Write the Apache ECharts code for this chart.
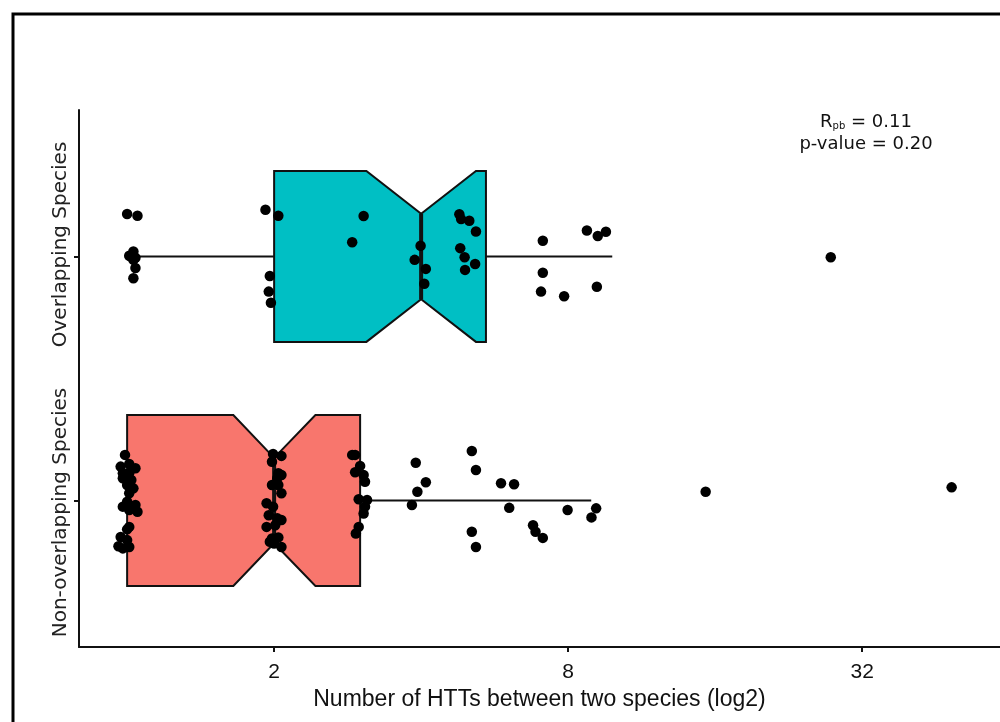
<!DOCTYPE html>
<html>
<head>
<meta charset="utf-8">
<script src="https://cdn.jsdelivr.net/npm/echarts@6/dist/echarts.min.js"></script>
<style>
  html, body { margin: 0; padding: 0; background: #fff; }
  #chart { width: 1000px; height: 722px; }
</style>
</head>
<body>
<div id="chart"></div>
<script>
// groups on the y axis (1 = bottom, 2 = top)
const groups = ['Non-overlapping Species', 'Overlapping Species'];
const xTicks = [2, 8, 32];

// box stats per group: whisker low, Q1, notch low, median, notch high, Q3, whisker high
const nonOverlapBox = [1.00, 1.00, 1.65, 2.00, 2.43, 3.00, 8.92];
const overlapBox = [1.00, 2.00, 3.09, 4.00, 5.18, 5.43, 9.85];

// jittered points: value (HTT count) and vertical jitter offset
const overlapValues = [1.00, 1.05, 1.03, 1.01, 1.02, 1.04, 1.03, 1.04, 1.03,
  1.92, 2.04, 1.96, 1.95, 1.97, 3.05, 2.89, 3.99, 3.88, 4.09, 4.06,
  4.79, 4.83, 5.02, 5.18, 4.81, 4.91, 5.16, 4.92,
  7.10, 8.74, 9.20, 9.56, 7.10, 7.04, 7.85, 9.16, 27.6];
const overlapJitter = [0.174, 0.167, 0.020, 0.003, -0.001, -0.005, -0.014, -0.047, -0.089,
  0.191, 0.167, -0.080, -0.144, -0.190, 0.166, 0.058, 0.044, -0.014, -0.051, -0.112,
  0.173, 0.153, 0.146, 0.102, 0.034, -0.003, -0.031, -0.055,
  0.064, 0.106, 0.084, 0.101, -0.067, -0.144, -0.163, -0.124, -0.003];

const nonOverlapValues = [0.99, 0.97, 1.01, 1.04, 0.98, 1.01, 0.98, 1.02, 1.00, 1.03,
  1.01, 1.00, 0.98, 1.04, 1.01, 1.05, 1.01, 1.00, 0.97, 1.00, 0.96, 1.01, 0.98,
  1.99, 2.07, 1.98, 2.04, 2.07, 2.03, 1.98, 2.04, 2.07, 1.93, 1.99, 1.95, 2.03,
  2.07, 1.93, 2.01, 1.98, 2.04, 2.00, 2.07, 1.96,
  2.89, 2.93, 3.00, 2.93, 3.05, 3.07, 2.98, 3.10, 3.07, 3.05, 2.98, 2.94,
  3.90, 4.09, 3.93, 3.83, 5.08, 5.18, 5.83, 6.20, 6.06, 5.08, 5.18, 6.78, 6.86,
  7.10, 7.98, 8.93, 9.13, 15.3, 48.8];
const nonOverlapJitter = [0.187, 0.139, 0.150, 0.132, 0.112, 0.112, 0.091, 0.084, 0.064, 0.050,
  0.030, -0.005, -0.025, -0.018, -0.039, -0.046, -0.108, -0.118, -0.149, -0.162, -0.187, -0.190, -0.196,
  0.191, 0.183, 0.159, 0.112, 0.105, 0.091, 0.064, 0.064, 0.030, -0.011, -0.025, -0.060, -0.073,
  -0.080, -0.108, -0.101, -0.155, -0.151, -0.176, -0.190, -0.169,
  0.187, 0.187, 0.142, 0.116, 0.105, 0.077, 0.005, 0.002, -0.025, -0.053, -0.108, -0.135,
  0.155, 0.075, 0.036, -0.018, 0.203, 0.125, 0.071, 0.067, -0.030, -0.128, -0.190, -0.101, -0.128,
  -0.153, -0.039, -0.069, -0.032, 0.036, 0.054];

const boxColors = ['#F8766D', '#00BFC4'];

const chart = echarts.init(document.getElementById('chart'));

const boxData = [[1].concat(nonOverlapBox), [2].concat(overlapBox)];
const points = nonOverlapValues.map((v, i) => [v, 1 + nonOverlapJitter[i]])
  .concat(overlapValues.map((v, i) => [v, 2 + overlapJitter[i]]));

function renderBox(params, api) {
  const c = api.value(0);
  const h = 0.35;
  const P = (dim, dy) => api.coord([api.value(dim), c + dy]);
  const fill = boxColors[params.dataIndex];
  const children = [];
  if (api.value(1) < api.value(2)) {
    const a = P(1, 0), b = P(2, 0);
    children.push({ type: 'line', shape: { x1: a[0], y1: a[1], x2: b[0], y2: b[1] },
      style: { stroke: '#111', lineWidth: 2 } });
  }
  const r1 = P(6, 0), r2 = P(7, 0);
  children.push({ type: 'line', shape: { x1: r1[0], y1: r1[1], x2: r2[0], y2: r2[1] },
    style: { stroke: '#111', lineWidth: 2 } });
  children.push({
    type: 'polygon',
    shape: { points: [P(2, h), P(3, h), P(4, h / 2), P(5, h), P(6, h),
      P(6, -h), P(5, -h), P(4, -h / 2), P(3, -h), P(2, -h)] },
    style: { fill: fill, stroke: '#111', lineWidth: 2 }
  });
  const m1 = P(4, h / 2), m2 = P(4, -h / 2);
  children.push({ type: 'line', shape: { x1: m1[0], y1: m1[1], x2: m2[0], y2: m2[1] },
    style: { stroke: '#111', lineWidth: 4 } });
  return { type: 'group', children: children };
}

const option = {
  animation: false,
  backgroundColor: '#fff',
  grid: { left: 79, right: 0, top: 110, bottom: 75 },
  xAxis: {
    type: 'log',
    logBase: 2,
    min: 0.797,
    max: 61.3,
    name: 'Number of HTTs between two species (log2)',
    nameLocation: 'middle',
    nameGap: 39,
    nameTextStyle: { fontSize: 23, color: '#111', fontFamily: 'Liberation Sans' },
    axisLine: { lineStyle: { color: '#111', width: 2 } },
    axisTick: { customValues: xTicks, length: 5, lineStyle: { color: '#111', width: 2 } },
    axisLabel: { customValues: xTicks, fontSize: 21, color: '#111', margin: 15,
      fontFamily: 'Liberation Sans' },
    splitLine: { show: false },
    minorTick: { show: false }
  },
  yAxis: {
    type: 'value',
    min: 0.4,
    max: 2.6,
    axisLine: { show: true, lineStyle: { color: '#111', width: 2 } },
    axisTick: { show: true, customValues: [1, 2], length: 5, lineStyle: { color: '#111', width: 2 } },
    axisLabel: {
      customValues: [1, 2],
      formatter: v => (Math.round(v) === 1 ? '{lo|' : '{hi|') + groups[Math.round(v) - 1] + '}',
      rotate: 90,
      color: '#222',
      margin: 8,
      rich: {
        lo: { fontSize: 20, fontFamily: 'DejaVu Sans', color: '#222', padding: [0, 24, 0, 0] },
        hi: { fontSize: 20, fontFamily: 'DejaVu Sans', color: '#222', padding: [0, 0, 0, 24] }
      }
    },
    splitLine: { show: false }
  },
  series: [
    {
      type: 'custom',
      renderItem: renderBox,
      data: boxData,
      encode: { x: [1, 2, 3, 4, 5, 6, 7], y: 0 },
      z: 2
    },
    {
      type: 'scatter',
      data: points,
      symbolSize: 10.5,
      itemStyle: { color: '#000', opacity: 1 },
      z: 5
    }
  ],
  graphic: [
    {
      type: 'rect',
      shape: { x: 13, y: 14, width: 1000, height: 720 },
      style: { fill: 'none', stroke: '#000', lineWidth: 3 },
      silent: true
    },
    {
      type: 'text',
      x: 866, y: 121,
      style: {
        text: '{r|R}{s|pb}{r| = 0.11}',
        align: 'center', verticalAlign: 'middle',
        rich: {
          r: { fontSize: 18, fontFamily: 'DejaVu Sans', fill: '#111', lineHeight: 21, verticalAlign: 'bottom' },
          s: { fontSize: 10, fontFamily: 'DejaVu Sans', fill: '#111', lineHeight: 21, verticalAlign: 'bottom', padding: [8, 0, 0, 0] }
        }
      }
    },
    {
      type: 'text',
      x: 866, y: 144,
      style: { text: 'p-value = 0.20', fontSize: 18, fontFamily: 'DejaVu Sans', fill: '#111',
        align: 'center', verticalAlign: 'middle' }
    }
  ]
};

chart.setOption(option);
</script>
</body>
</html>
